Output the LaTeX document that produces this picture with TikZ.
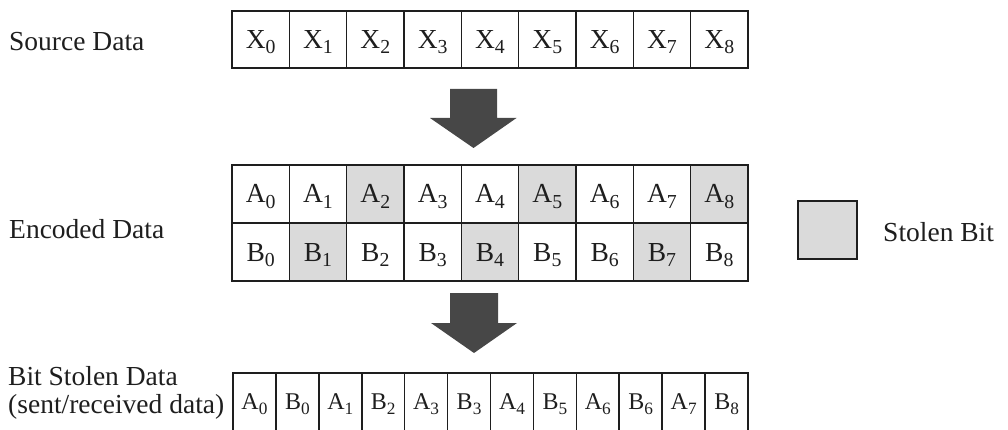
\documentclass[tikz,border=0pt]{standalone}
\usepackage{fontspec}
\setmainfont{Liberation Serif}
\newcommand\sbsc[1]{\raisebox{-0.19em}{\scalebox{0.72}{#1}}}
\definecolor{ink}{HTML}{1E1E1E}
\definecolor{arrowgray}{HTML}{474747}
\definecolor{stolengray}{HTML}{DADADA}
\begin{document}
\begin{tikzpicture}[x=1pt,y=-1pt,
  cell/.style={draw=ink, line width=1.6pt, inner sep=0pt, outer sep=0pt,
    text=ink, text height=18pt, text depth=0pt, font=\fontsize{27.5}{30}\selectfont},
  smallcell/.style={cell, text height=15.5pt, font=\fontsize{24}{26}\selectfont},
  lbl/.style={anchor=base west, inner sep=0pt, text=ink, font=\fontsize{27.5}{30}\selectfont},
  bigarrow/.style={fill=arrowgray, draw=none}]
\useasboundingbox (0,0) rectangle (1008,430);
\clip (0,0) rectangle (1008,430);

% labels
\node[lbl] (lsrc) at (9,51) {Source Data};
\node[lbl] (lenc) at (9,239) {Encoded Data};
\node[lbl] (lbs1) at (8,385) {Bit Stolen Data};
\node[lbl] (lbs2) at (8,413) {(sent/received data)};

% source row
\foreach \i in {0,...,8}{
  \node[cell, minimum width=57.33pt, minimum height=57pt] (x\i)
    at ({232+57.33*\i+28.67},39.5) {X\sbsc{\i}};
}

% encoded rows
\foreach \i in {0,...,8}{
  \pgfmathtruncatemacro\m{mod(\i,3)}
  \ifnum\m=2 \def\fa{stolengray}\else\def\fa{white}\fi
  \ifnum\m=1 \def\fb{stolengray}\else\def\fb{white}\fi
  \node[cell, fill=\fa, minimum width=57.33pt, minimum height=58pt] (a\i)
    at ({232+57.33*\i+28.67},194) {A\sbsc{\i}};
  \node[cell, fill=\fb, minimum width=57.33pt, minimum height=58pt] (b\i)
    at ({232+57.33*\i+28.67},252) {B\sbsc{\i}};
}

% legend
\node[cell, fill=stolengray, minimum width=59pt, minimum height=58pt] (leg) at (827.5,230) {};
\node[lbl] (legt) at (883,241) {Stolen Bit};

% bit stolen row
\foreach \i/\t in {0/A\sbsc{0},1/B\sbsc{0},2/A\sbsc{1},3/B\sbsc{2},4/A\sbsc{3},5/B\sbsc{3},
                   6/A\sbsc{4},7/B\sbsc{5},8/A\sbsc{6},9/B\sbsc{6},10/A\sbsc{7},11/B\sbsc{8}}{
  \node[smallcell, minimum width=42.92pt, minimum height=58pt] (s\i)
    at ({233+42.92*\i+21.46},402) {\t};
}

% arrows
\coordinate (ar1) at (473.5,89);
\coordinate (ar2) at (474,293);
\fill[bigarrow] (ar1) ++(-23.5,0) -- ++(47,0) -- ++(0,29) -- ++(19.5,0)
  -- (473.5,148) -- (430,118) -- (450,118) -- cycle;
\fill[bigarrow] (ar2) ++(-24,0) -- ++(48,0) -- ++(0,30) -- ++(19,0)
  -- (474,353) -- (431,323) -- (450,323) -- cycle;
\end{tikzpicture}
\end{document}
